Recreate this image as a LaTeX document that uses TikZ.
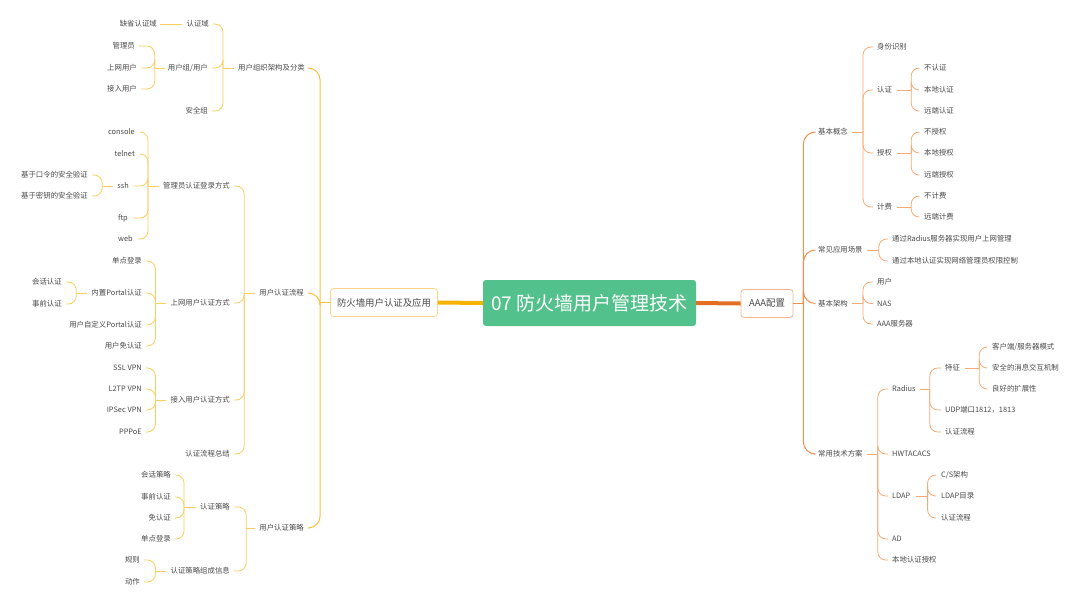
\documentclass[tikz,border=0pt]{standalone}
\usepackage{fontspec}
\setmainfont{Noto Sans CJK SC}
\definecolor{txt}{HTML}{4A4A4A}
\definecolor{ly}{HTML}{FCCE60}
\definecolor{lym}{HTML}{F9C143}
\definecolor{lyt}{HTML}{F6B400}
\definecolor{ro}{HTML}{F6AA76}
\definecolor{rom}{HTML}{F08E4E}
\definecolor{rot}{HTML}{E46F24}
\definecolor{cgreen}{HTML}{52C18B}
\definecolor{lbord}{HTML}{FAD488}
\definecolor{rbord}{HTML}{F5B690}
\begin{document}
\begin{tikzpicture}[x=1pt,y=-1pt,
  lt/.style={anchor=east,inner sep=0pt,text=txt,font=\fontsize{7.4}{8}\selectfont},
  rt/.style={anchor=west,inner sep=0pt,text=txt,font=\fontsize{7.4}{8}\selectfont},
  lc/.style={draw=ly,line width=0.8pt,rounded corners=8pt},
  lm/.style={draw=lym,line width=1pt,rounded corners=12pt},
  rc/.style={draw=ro,line width=0.8pt,rounded corners=8pt},
  rm/.style={draw=rom,line width=1pt,rounded corners=12pt},
  mainbox/.style={draw,line width=0.8pt,rounded corners=3pt,fill=white,text=txt,inner sep=0pt,font=\fontsize{9.4}{11}\selectfont}]
\fill[white] (0,0) rectangle (1080,606);
\useasboundingbox (0,0) rectangle (1080,606);

% central and main boxes
\node[fill=cgreen,rounded corners=3pt,minimum width=213pt,minimum height=46pt,inner sep=0pt,text=white,font=\fontsize{19}{23}\selectfont] (C) at (589.5,303) {07 防火墙用户管理技术};
\node[mainbox,draw=lbord,minimum width=107pt,minimum height=28pt] (L) at (384,302.5) {防火墙用户认证及应用};
\node[mainbox,draw=rbord,minimum width=52pt,minimum height=28pt] (R) at (767,303.5) {AAA配置};
\draw[lyt,line width=4pt] (L.east) -- (C.west);
\draw[rot,line width=4pt] (C.east) -- (R.west);

% ================= LEFT =================
\node[lt] (A1) at (305,68) {用户组织架构及分类};
\node[lt] (A2) at (304,293) {用户认证流程};
\node[lt] (A3) at (304,528) {用户认证策略};
\coordinate (JL) at ([xshift=-10pt]L.west);
\draw[lm] (L.west) -- (JL);
\foreach \n in {A1,A2,A3} \draw[lm] ([xshift=5pt]\n.east) -| (JL);

\node[lt] (B1) at (209,24) {认证域};
\node[lt] (B2) at (208,68) {用户组/用户};
\node[lt] (B3) at (208,111) {安全组};
\coordinate (JA1) at ([xshift=-15pt]A1.west);
\draw[lc] ([xshift=-4pt]A1.west) -- (JA1);
\foreach \n in {B1,B2,B3} \draw[lc] ([xshift=4pt]\n.east) -| (JA1);

\node[lt] (C1) at (157,24) {缺省认证域};
\draw[lc] ([xshift=3pt]C1.east) -- ([xshift=-4pt]B1.west);

\node[lt] (C2) at (135,46) {管理员};
\node[lt] (C3) at (137,68) {上网用户};
\node[lt] (C4) at (137,89) {接入用户};
\coordinate (JB2) at ([xshift=-13pt]B2.west);
\draw[lc] ([xshift=-3pt]B2.west) -- (JB2);
\foreach \n in {C2,C3,C4} \draw[lc] ([xshift=4pt]\n.east) -| (JB2);

\node[lt] (D1) at (230,186) {管理员认证登录方式};
\node[lt] (D2) at (230,303) {上网用户认证方式};
\node[lt] (D3) at (230,400) {接入用户认证方式};
\node[lt] (D4) at (230,454) {认证流程总结};
\coordinate (JA2) at ([xshift=-15pt]A2.west);
\draw[lc] ([xshift=-4pt]A2.west) -- (JA2);
\foreach \n in {D1,D2,D3,D4} \draw[lc] ([xshift=4pt]\n.east) -| (JA2);

\node[lt] (E1) at (135,132) {console};
\node[lt] (E2) at (135,154) {telnet};
\node[lt] (E3) at (129,186) {ssh};
\node[lt] (E4) at (128,218) {ftp};
\node[lt] (E5) at (133,239) {web};
\coordinate (JD1) at ([xshift=-15pt]D1.west);
\draw[lc] ([xshift=-4pt]D1.west) -- (JD1);
\foreach \n in {E1,E2,E3,E4,E5} \draw[lc] ([xshift=5pt]\n.east) -| (JD1);

\node[lt] (F1) at (88,175) {基于口令的安全验证};
\node[lt] (F2) at (88,196) {基于密钥的安全验证};
\coordinate (JE3) at ([xshift=-15pt]E3.west);
\draw[lc] ([xshift=-4pt]E3.west) -- (JE3);
\foreach \n in {F1,F2} \draw[lc] ([xshift=4pt]\n.east) -| (JE3);

\node[lt] (G1) at (142,261) {单点登录};
\node[lt] (G2) at (142,293) {内置Portal认证};
\node[lt] (G3) at (142,325) {用户自定义Portal认证};
\node[lt] (G4) at (142,346) {用户免认证};
\coordinate (JD2) at ([xshift=-15pt]D2.west);
\draw[lc] ([xshift=-4pt]D2.west) -- (JD2);
\foreach \n in {G1,G2,G3,G4} \draw[lc] ([xshift=4pt]\n.east) -| (JD2);

\node[lt] (H1) at (62,282) {会话认证};
\node[lt] (H2) at (62,304) {事前认证};
\coordinate (JG2) at ([xshift=-15pt]G2.west);
\draw[lc] ([xshift=-4pt]G2.west) -- (JG2);
\foreach \n in {H1,H2} \draw[lc] ([xshift=4pt]\n.east) -| (JG2);

\node[lt] (I1) at (142,368) {SSL VPN};
\node[lt] (I2) at (142,389) {L2TP VPN};
\node[lt] (I3) at (142,410) {IPSec VPN};
\node[lt] (I4) at (142,432) {PPPoE};
\coordinate (JD3) at ([xshift=-15pt]D3.west);
\draw[lc] ([xshift=-4pt]D3.west) -- (JD3);
\foreach \n in {I1,I2,I3,I4} \draw[lc] ([xshift=4pt]\n.east) -| (JD3);

\node[lt] (K1) at (230,507) {认证策略};
\node[lt] (K2) at (230,571) {认证策略组成信息};
\coordinate (JA3) at ([xshift=-13pt]A3.west);
\draw[lc] ([xshift=-4pt]A3.west) -- (JA3);
\foreach \n in {K1,K2} \draw[lc] ([xshift=4pt]\n.east) -| (JA3);

\node[lt] (M1) at (171,475) {会话策略};
\node[lt] (M2) at (171,497) {事前认证};
\node[lt] (M3) at (171,518) {免认证};
\node[lt] (M4) at (171,539) {单点登录};
\coordinate (JK1) at ([xshift=-16pt]K1.west);
\draw[lc] ([xshift=-4pt]K1.west) -- (JK1);
\foreach \n in {M1,M2,M3,M4} \draw[lc] ([xshift=4pt]\n.east) -| (JK1);

\node[lt] (N1) at (140,560) {规则};
\node[lt] (N2) at (140,582) {动作};
\coordinate (JK2) at ([xshift=-15pt]K2.west);
\draw[lc] ([xshift=-4pt]K2.west) -- (JK2);
\foreach \n in {N1,N2} \draw[lc] ([xshift=4pt]\n.east) -| (JK2);

% ================= RIGHT =================
\node[rt] (P1) at (818,132) {基本概念};
\node[rt] (P2) at (818,250) {常见应用场景};
\node[rt] (P3) at (818,303.5) {基本架构};
\node[rt] (P4) at (818,454) {常用技术方案};
\coordinate (JR) at ([xshift=10pt]R.east);
\draw[rm] (R.east) -- (JR);
\foreach \n in {P1,P2,P3,P4} \draw[rm] ([xshift=-4pt]\n.west) -| (JR);

\node[rt] (Q1) at (877,47) {身份识别};
\node[rt] (Q2) at (877,90) {认证};
\node[rt] (Q3) at (877,153) {授权};
\node[rt] (Q4) at (877,207) {计费};
\coordinate (JP1) at ([xshift=15pt]P1.east);
\draw[rc] ([xshift=4pt]P1.east) -- (JP1);
\foreach \n in {Q1,Q2,Q3,Q4} \draw[rc] ([xshift=-4pt]\n.west) -| (JP1);

\node[rt] (S1) at (924,68) {不认证};
\node[rt] (S2) at (924,90) {本地认证};
\node[rt] (S3) at (924,111) {远端认证};
\coordinate (JQ2) at ([xshift=19pt]Q2.east);
\draw[rc] ([xshift=5pt]Q2.east) -- (JQ2);
\foreach \n in {S1,S2,S3} \draw[rc] ([xshift=-5pt]\n.west) -| (JQ2);

\node[rt] (S4) at (924,132) {不授权};
\node[rt] (S5) at (924,153) {本地授权};
\node[rt] (S6) at (924,175) {远端授权};
\coordinate (JQ3) at ([xshift=19pt]Q3.east);
\draw[rc] ([xshift=5pt]Q3.east) -- (JQ3);
\foreach \n in {S4,S5,S6} \draw[rc] ([xshift=-5pt]\n.west) -| (JQ3);

\node[rt] (S7) at (924,196) {不计费};
\node[rt] (S8) at (924,217) {远端计费};
\coordinate (JQ4) at ([xshift=19pt]Q4.east);
\draw[rc] ([xshift=5pt]Q4.east) -- (JQ4);
\foreach \n in {S7,S8} \draw[rc] ([xshift=-5pt]\n.west) -| (JQ4);

\node[rt] (T1) at (892,239) {通过Radius服务器实现用户上网管理};
\node[rt] (T2) at (892,261) {通过本地认证实现网络管理员权限控制};
\coordinate (JP2) at ([xshift=16pt]P2.east);
\draw[rc] ([xshift=4pt]P2.east) -- (JP2);
\foreach \n in {T1,T2} \draw[rc] ([xshift=-4pt]\n.west) -| (JP2);

\node[rt] (U1) at (877,282) {用户};
\node[rt] (U2) at (877,303.5) {NAS};
\node[rt] (U3) at (877,324) {AAA服务器};
\coordinate (JP3) at ([xshift=15pt]P3.east);
\draw[rc] ([xshift=4pt]P3.east) -- (JP3);
\foreach \n in {U1,U2,U3} \draw[rc] ([xshift=-4pt]\n.west) -| (JP3);

\node[rt] (V1) at (892,389) {Radius};
\node[rt] (V2) at (892,454) {HWTACACS};
\node[rt] (V3) at (892,496) {LDAP};
\node[rt] (V4) at (892,539) {AD};
\node[rt] (V5) at (892,560) {本地认证授权};
\coordinate (JP4) at ([xshift=15pt]P4.east);
\draw[rc] ([xshift=4pt]P4.east) -- (JP4);
\foreach \n in {V1,V2,V3,V4,V5} \draw[rc] ([xshift=-4pt]\n.west) -| (JP4);

\node[rt] (W1) at (945,368) {特征};
\node[rt] (W2) at (945,410) {UDP端口1812，1813};
\node[rt] (W3) at (945,432) {认证流程};
\coordinate (JV1) at ([xshift=14pt]V1.east);
\draw[rc] ([xshift=4pt]V1.east) -- (JV1);
\foreach \n in {W1,W2,W3} \draw[rc] ([xshift=-4pt]\n.west) -| (JV1);

\node[rt] (X1) at (992,347) {客户端/服务器模式};
\node[rt] (X2) at (992,368) {安全的消息交互机制};
\node[rt] (X3) at (992,389) {良好的扩展性};
\coordinate (JW1) at ([xshift=19pt]W1.east);
\draw[rc] ([xshift=5pt]W1.east) -- (JW1);
\foreach \n in {X1,X2,X3} \draw[rc] ([xshift=-5pt]\n.west) -| (JW1);

\node[rt] (Y1) at (941,475) {C/S架构};
\node[rt] (Y2) at (941,496) {LDAP目录};
\node[rt] (Y3) at (941,518) {认证流程};
\coordinate (JV3) at ([xshift=17pt]V3.east);
\draw[rc] ([xshift=5pt]V3.east) -- (JV3);
\foreach \n in {Y1,Y2,Y3} \draw[rc] ([xshift=-5pt]\n.west) -| (JV3);
\end{tikzpicture}
\end{document}
